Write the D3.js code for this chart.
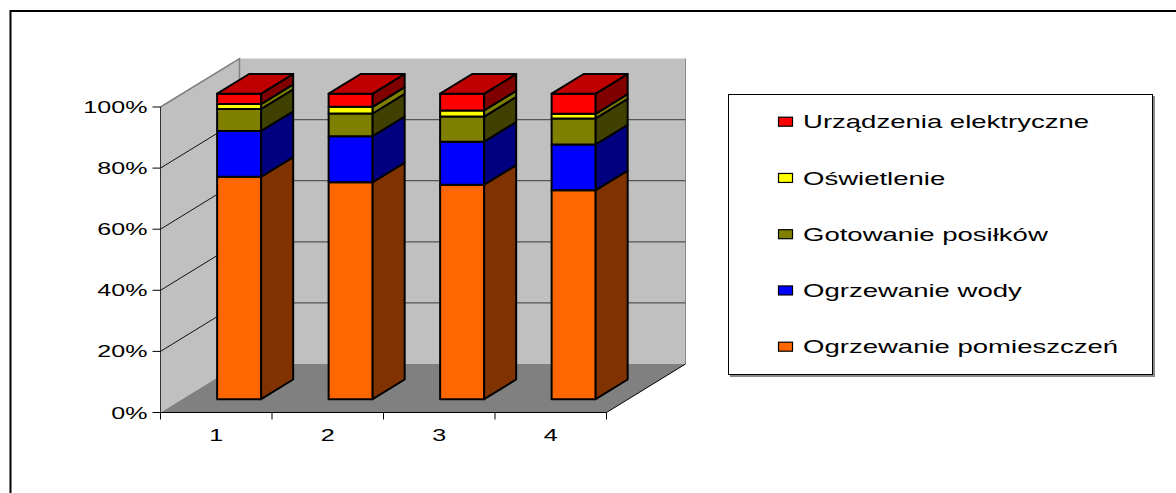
<!DOCTYPE html>
<html>
<head>
<meta charset="utf-8">
<script src="https://cdn.jsdelivr.net/npm/d3@7"></script>
<style>
  html, body { margin: 0; padding: 0; background: #fff; }
  svg { display: block; }
  text { font-family: "Liberation Sans", Arial, sans-serif; fill: #000; }
</style>
</head>
<body>
<svg id="chart" width="1176" height="493"></svg>
<script>
// Categories along the x axis
const categories = ["1", "2", "3", "4"];

// Series, bottom to top of each stack
const seriesNames = [
  "Ogrzewanie pomieszczeń",
  "Ogrzewanie wody",
  "Gotowanie posiłków",
  "Oświetlenie",
  "Urządzenia elektryczne"
];

// Percent share of each series per category
const ogrzewaniePomieszczen = [72.8, 71.0, 70.2, 68.4];
const ogrzewanieWody       = [15.0, 15.1, 14.1, 15.0];
const gotowaniePosilkow    = [7.2, 7.4, 8.2, 8.5];
const oswietlenie          = [1.6, 2.2, 2.0, 1.5];
const urzadzeniaElektryczne= [3.4, 4.3, 5.5, 6.6];

// Axis tick values and labels
const yTicks = [0, 0.2, 0.4, 0.6, 0.8, 1.0];
const yTickLabels = ["0%", "20%", "40%", "60%", "80%", "100%"];

// Face colours: front, side, top
const frontColors = ["#FF6600", "#0000FF", "#808000", "#FFFF00", "#FF0000"];
const sideColors  = ["#803300", "#000080", "#404000", "#808000", "#800000"];
const topColors   = ["#C04C00", "#0000C0", "#606000", "#C0C000", "#C00000"];

const values = [ogrzewaniePomieszczen, ogrzewanieWody, gotowaniePosilkow, oswietlenie, urzadzeniaElektryczne];

// Build a table of rows for d3.stack, normalised to 100 %
const rows = categories.map((c, i) => {
  const r = { cat: c };
  let total = 0;
  values.forEach(v => total += v[i]);
  seriesNames.forEach((s, k) => r[s] = values[k][i] / total);
  return r;
});
const stacked = d3.stack().keys(seriesNames)(rows);

const svg = d3.select("#chart");

// Plot geometry (front plane) and depth projection
const xLeft = 160.5, xRight = 606.5;
const yBottom = 412.5, yTop = 107;
const depthX = 79, depthY = -48.5;
const barDepthStart = 0.275, barDepthEnd = 0.68;
const TEXT_SX = 1.52;

const x = d3.scaleBand().domain(categories).range([xLeft, xRight]);
const y = d3.scaleLinear().domain([0, 1]).range([yBottom, yTop]);

const pts = arr => arr.map(p => p.join(",")).join(" ");

// Outer frame
svg.append("rect")
  .attr("x", 10.5).attr("y", 11).attr("width", 1200).attr("height", 600)
  .attr("fill", "none").attr("stroke", "#000").attr("stroke-width", 2);

const gWalls = svg.append("g");
// Back wall
gWalls.append("polygon")
  .attr("points", pts([
    [xLeft + depthX, y(1) + depthY], [xRight + depthX, y(1) + depthY],
    [xRight + depthX, y(0) + depthY], [xLeft + depthX, y(0) + depthY]]))
  .attr("fill", "#C0C0C0");
// Side wall
gWalls.append("polygon")
  .attr("points", pts([
    [xLeft, y(0)], [xLeft, y(1)],
    [xLeft + depthX, y(1) + depthY], [xLeft + depthX, y(0) + depthY]]))
  .attr("fill", "#C0C0C0");
// Floor
gWalls.append("polygon")
  .attr("points", pts([
    [xLeft, y(0)], [xRight, y(0)],
    [xRight + depthX, y(0) + depthY], [xLeft + depthX, y(0) + depthY]]))
  .attr("fill", "#808080");

// Wall edges
gWalls.append("polyline")
  .attr("points", pts([[xLeft, y(1)], [xLeft + depthX, y(1) + depthY], [xLeft + depthX, y(0) + depthY]]))
  .attr("fill", "none").attr("stroke", "#808080").attr("stroke-width", 1.5);
gWalls.append("line")
  .attr("x1", xRight + depthX).attr("y1", y(1) + depthY)
  .attr("x2", xRight + depthX).attr("y2", y(0) + depthY)
  .attr("stroke", "#8a8a8a").attr("stroke-width", 1);

// Gridlines on back wall and side wall
const gridVals = yTicks.filter(t => t > 0 && t < 1);
const gGrid = svg.append("g");
gGrid.selectAll("line.back").data(gridVals).join("line")
  .attr("x1", xLeft + depthX).attr("x2", xRight + depthX)
  .attr("y1", d => y(d) + depthY).attr("y2", d => y(d) + depthY)
  .attr("stroke", "#555").attr("stroke-width", 1.2);
gGrid.selectAll("line.side").data(gridVals).join("line")
  .attr("x1", xLeft).attr("x2", xLeft + depthX)
  .attr("y1", d => y(d)).attr("y2", d => y(d) + depthY)
  .attr("stroke", "#111").attr("stroke-width", 1);

// Bars
const bw = x.bandwidth();
const barOff = 0.313 * bw, barW = 0.395 * bw;
const fx = depthX * barDepthStart, fy = depthY * barDepthStart;
const bdx = depthX * (barDepthEnd - barDepthStart), bdy = depthY * (barDepthEnd - barDepthStart);

const gBars = svg.append("g");
categories.forEach((c, ci) => {
  const g = gBars.append("g");
  const x0 = x(c) + barOff + fx, x1 = x0 + barW;
  stacked.forEach((layer, si) => {
    const d = layer[ci];
    const yb = y(d[0]) + fy, yt = y(d[1]) + fy;
    // front face
    g.append("rect")
      .attr("x", x0).attr("y", yt).attr("width", barW).attr("height", yb - yt)
      .attr("fill", frontColors[si]).attr("stroke", "#000").attr("stroke-width", 2)
      .attr("stroke-linejoin", "round");
    // side face
    g.append("polygon")
      .attr("points", pts([[x1, yt], [x1 + bdx, yt + bdy], [x1 + bdx, yb + bdy], [x1, yb]]))
      .attr("fill", sideColors[si]).attr("stroke", "#000").attr("stroke-width", 2)
      .attr("stroke-linejoin", "round");
    // top face on the uppermost segment
    if (si === stacked.length - 1) {
      g.append("polygon")
        .attr("points", pts([[x0, yt], [x1, yt], [x1 + bdx, yt + bdy], [x0 + bdx, yt + bdy]]))
        .attr("fill", topColors[si]).attr("stroke", "#000").attr("stroke-width", 2)
        .attr("stroke-linejoin", "round");
    }
  });
});

// Axes
const gAxis = svg.append("g");
gAxis.append("line")
  .attr("x1", xLeft).attr("x2", xLeft).attr("y1", y(1)).attr("y2", y(0))
  .attr("stroke", "#333").attr("stroke-width", 1);
gAxis.append("line")
  .attr("x1", xLeft).attr("x2", xRight).attr("y1", y(0)).attr("y2", y(0))
  .attr("stroke", "#000").attr("stroke-width", 1.2);
gAxis.append("line")
  .attr("x1", xRight).attr("y1", y(0)).attr("x2", xRight + depthX).attr("y2", y(0) + depthY)
  .attr("stroke", "#000").attr("stroke-width", 1);

// Y ticks and labels
gAxis.selectAll("line.ytick").data(yTicks).join("line")
  .attr("x1", xLeft - 8).attr("x2", xLeft)
  .attr("y1", d => y(d)).attr("y2", d => y(d))
  .attr("stroke", "#000").attr("stroke-width", 1);
gAxis.selectAll("text.ylab").data(yTicks).join("text")
  .attr("transform", d => `translate(${xLeft - 13},${y(d) + 6}) scale(${TEXT_SX},1)`)
  .attr("text-anchor", "end")
  .attr("font-size", 16.5)
  .text((d, i) => yTickLabels[i]);

// X ticks and labels
const xBounds = categories.map(c => x(c)).concat([xRight]);
gAxis.selectAll("line.xtick").data(xBounds).join("line")
  .attr("x1", d => d).attr("x2", d => d)
  .attr("y1", y(0)).attr("y2", y(0) + 7)
  .attr("stroke", "#000").attr("stroke-width", 1);
gAxis.selectAll("text.xlab").data(categories).join("text")
  .attr("transform", d => `translate(${x(d) + bw / 2},${y(0) + 28}) scale(${TEXT_SX},1)`)
  .attr("text-anchor", "middle")
  .attr("font-size", 16.5)
  .text(d => d);

// Legend
const legend = svg.append("g");
legend.append("rect")
  .attr("x", 730).attr("y", 96).attr("width", 425).attr("height", 281)
  .attr("fill", "#8a8a8a");
legend.append("rect")
  .attr("x", 728.5).attr("y", 94.5).attr("width", 424).attr("height", 280)
  .attr("fill", "#fff").attr("stroke", "#000").attr("stroke-width", 1);
const legendOrder = seriesNames.map((s, i) => i).reverse();
legendOrder.forEach((si, k) => {
  const cy = 121.7 + k * 56.25;
  legend.append("rect")
    .attr("x", 778.5).attr("y", cy - 4.5).attr("width", 14).attr("height", 9)
    .attr("fill", frontColors[si]).attr("stroke", "#000").attr("stroke-width", 1.2);
  legend.append("text")
    .attr("transform", `translate(803,${cy + 6.6}) scale(1.53,1)`)
    .attr("font-size", 18)
    .text(seriesNames[si]);
});
</script>
</body>
</html>
